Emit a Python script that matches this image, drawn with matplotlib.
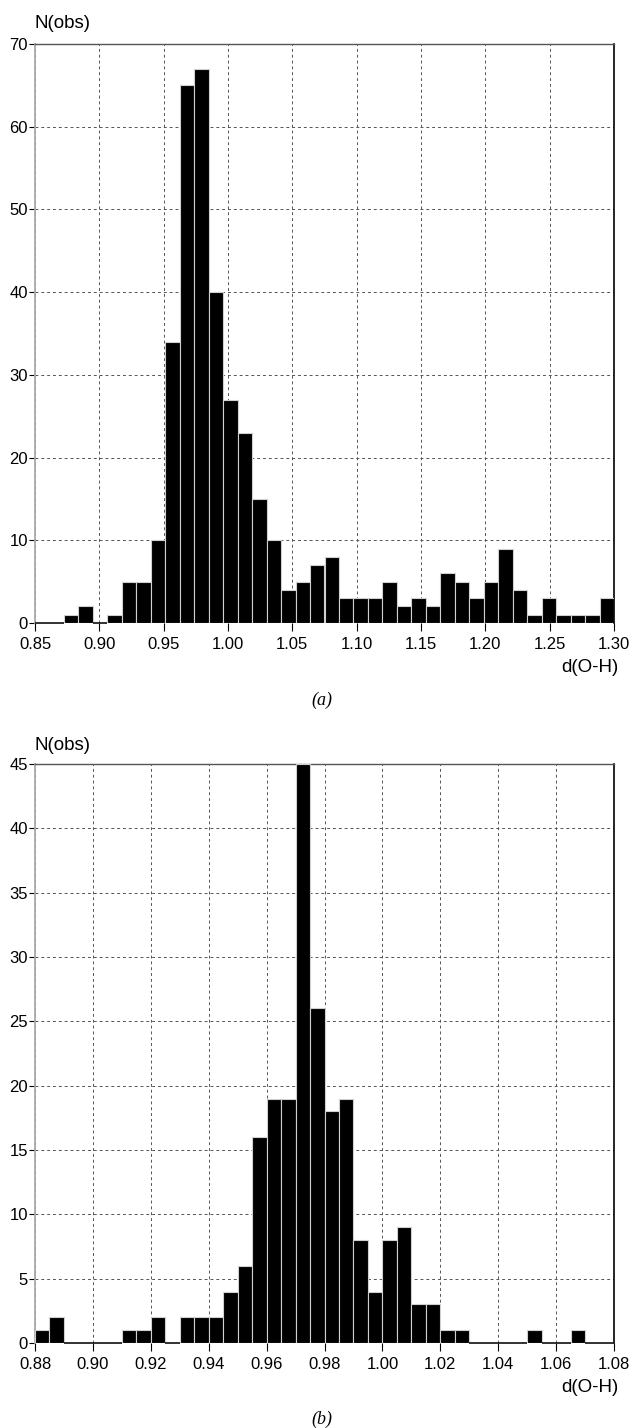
import numpy as np
import matplotlib
matplotlib.use("Agg")
import matplotlib.pyplot as plt

plt.rcParams['font.family'] = ['Liberation Sans', 'DejaVu Sans']

# panel (a): 40 equal bins from 0.85 to 1.30
counts_a = [0, 0, 1, 2, 0, 1, 5, 5, 10, 34,
            65, 67, 40, 27, 23, 15, 10, 4, 5, 7,
            8, 3, 3, 3, 5, 2, 3, 2, 6, 5,
            3, 5, 9, 4, 1, 3, 1, 1, 1, 3]
range_a = (0.85, 1.30)
xticks_a = [0.85, 0.90, 0.95, 1.00, 1.05, 1.10, 1.15, 1.20, 1.25, 1.30]
yticks_a = [0, 10, 20, 30, 40, 50, 60, 70]

# panel (b): 40 equal bins from 0.88 to 1.08
counts_b = [1, 2, 0, 0, 0, 0, 1, 1, 2, 0,
            2, 2, 2, 4, 6, 16, 19, 19, 45, 26,
            18, 19, 8, 4, 8, 9, 3, 3, 1, 1,
            0, 0, 0, 0, 1, 0, 0, 1, 0, 0]
range_b = (0.88, 1.08)
xticks_b = [0.88, 0.90, 0.92, 0.94, 0.96, 0.98, 1.00, 1.02, 1.04, 1.06, 1.08]
yticks_b = [0, 5, 10, 15, 20, 25, 30, 35, 40, 45]

W, H = 633, 1428
fig = plt.figure(figsize=(W / 100, H / 100), dpi=100)


def panel(rect, counts, xr, xticks, yticks, letter, ylab_y, xlab_y, letter_y):
    ax = fig.add_axes(rect)
    edges = np.linspace(xr[0], xr[1], len(counts) + 1)
    w = edges[1] - edges[0]
    ax.bar(edges[:-1], counts, width=w, align='edge', color='black',
           edgecolor='#d0d0d0', linewidth=0.8, zorder=3)
    # zero bins drawn as a flat line on the baseline
    for i, c in enumerate(counts):
        if c == 0:
            ax.plot([edges[i], edges[i + 1]], [0, 0], color='#222222', lw=1.3,
                    zorder=4, solid_capstyle='butt', clip_on=False)
    ax.set_xlim(xr)
    ax.set_ylim(0, yticks[-1])
    ax.set_xticks(xticks)
    ax.set_xticklabels(["%.2f" % t for t in xticks])
    ax.set_yticks(yticks)
    ax.grid(True, color='#555555', linestyle=(0, (3, 3)), linewidth=0.7, zorder=1)
    ax.tick_params(direction='out', length=4, width=0.8, labelsize=12, pad=1,
                   colors='black')
    ax.tick_params(axis='x', length=6, pad=4)
    ax.spines['left'].set_color('#aaaaaa')
    ax.spines['left'].set_linewidth(1.3)
    ax.spines['top'].set_color('#555555')
    ax.spines['top'].set_linewidth(1.0)
    ax.spines['right'].set_color('black')
    ax.spines['right'].set_linewidth(1.2)
    ax.spines['bottom'].set_visible(False)
    fig.text(35 / W, 1 - ylab_y / H, "N(obs)", fontsize=13.5, ha='left', va='center')
    fig.text(619 / W, 1 - xlab_y / H, "d(O-H)", fontsize=13.5, ha='right', va='center')
    fig.text(322 / W, 1 - letter_y / H, "(" + letter + ")", fontsize=13,
             ha='center', va='center', family='Liberation Serif', style='italic')
    return ax


panel([35 / W, 1 - 623 / H, 579 / W, 579 / H], counts_a, range_a, xticks_a, yticks_a,
      'a', 24, 668, 700)
panel([35 / W, 1 - 1343 / H, 579 / W, 579 / H], counts_b, range_b, xticks_b, yticks_b,
      'b', 745, 1388, 1419)

fig.savefig("out.png", dpi=100)
